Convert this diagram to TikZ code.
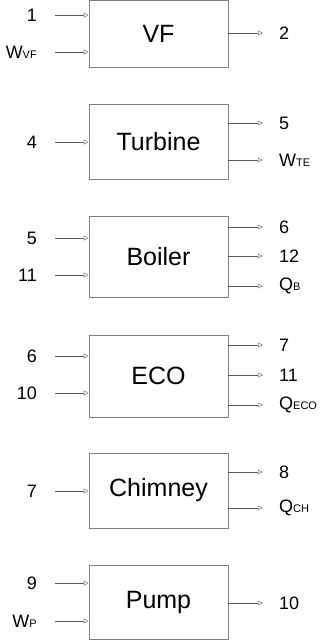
\documentclass[tikz,border=0pt]{standalone}
\usepackage{fontspec}
\setmainfont{Liberation Sans}
\usetikzlibrary{arrows.meta}

\newcommand{\sub}[1]{{\fontsize{11}{11}\selectfont #1}}

\begin{document}
\begin{tikzpicture}[
    x=1pt, y=-1pt,
    blk/.style={draw=black!50, line width=0.6pt, minimum width=139pt, inner sep=0pt, font=\fontsize{25}{25}\selectfont},
    lbl/.style={inner sep=2pt, font=\fontsize{18}{18}\selectfont},
    arr/.style={draw=black!65, line width=0.6pt, -{Triangle[open, length=5pt, width=5pt, color=black!45]}},
    inarr/.style={arr, shorten <=16pt},
    outarr/.style={arr, shorten >=14pt}
]
\useasboundingbox (0,0) rectangle (322,640);

% blocks
\node[blk, minimum height=66.5pt] (vf)   at (158.5,33.75) {VF};
\node[blk, minimum height=75pt]   (tur)  at (158.5,141.5) {Turbine};
\node[blk, minimum height=81pt]   (boil) at (158.5,256.5) {Boiler};
\node[blk, minimum height=82pt]   (eco)  at (158.5,376)   {ECO};
\node[blk, minimum height=75pt]   (chim) at (158.5,490.5) {Chimney};
\node[blk, minimum height=74pt]   (pump) at (158.5,602)   {Pump};

% VF
\node[lbl, anchor=east] (v1) at (39,15)  {1};
\node[lbl, anchor=east] (vw) at (39,52)  {W\sub{VF}};
\node[lbl, anchor=west] (v2) at (277,33) {2};
\draw[inarr] (v1) -- (vf.west |- v1);
\draw[inarr] (vw) -- (vf.west |- vw);
\draw[outarr] (vf.east |- v2) -- (v2);

% Turbine
\node[lbl, anchor=east] (t4) at (39,142)  {4};
\node[lbl, anchor=west] (t5) at (277,123) {5};
\node[lbl, anchor=west] (tw) at (277,160) {W\sub{TE}};
\draw[inarr] (t4) -- (tur.west |- t4);
\draw[outarr] (tur.east |- t5) -- (t5);
\draw[outarr] (tur.east |- tw) -- (tw);

% Boiler
\node[lbl, anchor=east] (b5)  at (39,238)  {5};
\node[lbl, anchor=east] (b11) at (39,275)  {11};
\node[lbl, anchor=west] (b6)  at (277,227) {6};
\node[lbl, anchor=west] (b12) at (277,256) {12};
\node[lbl, anchor=west] (bq)  at (277,286) {Q\sub{B}};
\draw[inarr] (b5) -- (boil.west |- b5);
\draw[inarr] (b11) -- (boil.west |- b11);
\draw[outarr] (boil.east |- b6) -- (b6);
\draw[outarr] (boil.east |- b12) -- (b12);
\draw[outarr] (boil.east |- bq) -- (bq);

% ECO
\node[lbl, anchor=east] (e6)  at (39,356)  {6};
\node[lbl, anchor=east] (e10) at (39,393)  {10};
\node[lbl, anchor=west] (e7)  at (277,345) {7};
\node[lbl, anchor=west] (e11) at (277,375) {11};
\node[lbl, anchor=west] (eq)  at (277,405) {Q\sub{ECO}};
\draw[inarr] (e6) -- (eco.west |- e6);
\draw[inarr] (e10) -- (eco.west |- e10);
\draw[outarr] (eco.east |- e7) -- (e7);
\draw[outarr] (eco.east |- e11) -- (e11);
\draw[outarr] (eco.east |- eq) -- (eq);

% Chimney
\node[lbl, anchor=east] (c7) at (39,491)  {7};
\node[lbl, anchor=west] (c8) at (277,472) {8};
\node[lbl, anchor=west] (cq) at (277,508) {Q\sub{CH}};
\draw[inarr] (c7) -- (chim.west |- c7);
\draw[outarr] (chim.east |- c8) -- (c8);
\draw[outarr] (chim.east |- cq) -- (cq);

% Pump
\node[lbl, anchor=east] (p9)  at (39,583)  {9};
\node[lbl, anchor=east] (pw)  at (39,621)  {W\sub{P}};
\node[lbl, anchor=west] (p10) at (277,603) {10};
\draw[inarr] (p9) -- (pump.west |- p9);
\draw[inarr] (pw) -- (pump.west |- pw);
\draw[outarr] (pump.east |- p10) -- (p10);
\end{tikzpicture}
\end{document}
